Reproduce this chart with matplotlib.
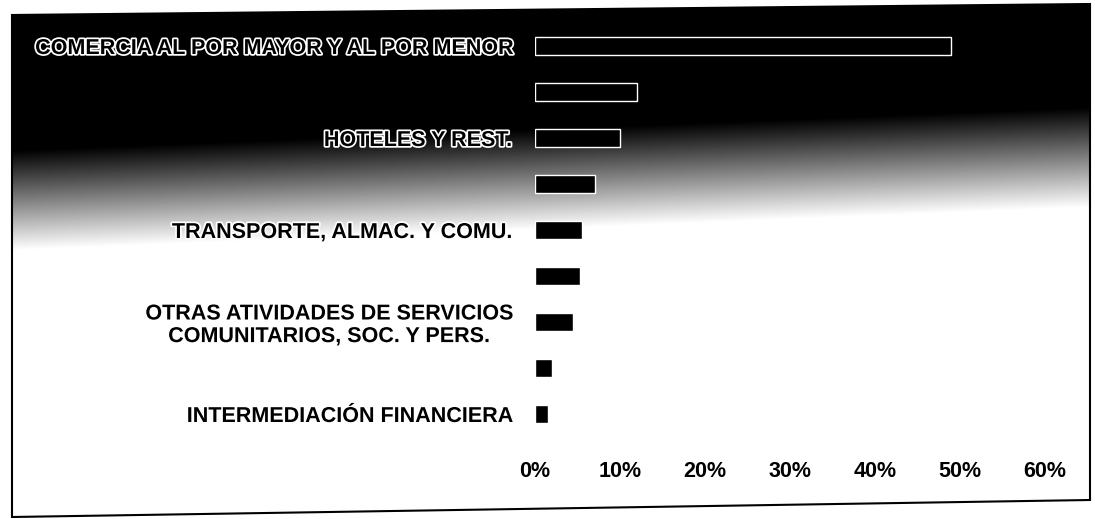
import numpy as np
import matplotlib
matplotlib.use("Agg")
from matplotlib import pyplot as plt
from matplotlib import patheffects as pe
from matplotlib.patches import Polygon

# sectores, de arriba hacia abajo (solo se rotulan uno de cada dos)
sectores = ["COMERCIA AL POR MAYOR Y AL POR MENOR", "",
            "HOTELES Y REST.", "",
            "TRANSPORTE, ALMAC. Y COMU.", "",
            "OTRAS ATIVIDADES DE SERVICIOS\nCOMUNITARIOS, SOC. Y PERS.", "",
            "INTERMEDIACIÓN FINANCIERA"]
participacion = [49.0, 12.0, 10.0, 7.0, 5.5, 5.3, 4.5, 2.0, 1.5]
ticks_x = [0, 10, 20, 30, 40, 50, 60]

plt.rcParams['font.family'] = ['Liberation Sans', 'DejaVu Sans']

W, H = 1095, 519
fig = plt.figure(figsize=(W / 100, H / 100), dpi=100)

# fondo degradado (oscuro arriba, blanco abajo) dentro del marco
bg = fig.add_axes([0, 0, 1, 1], zorder=0)
bg.set_xlim(0, W)
bg.set_ylim(H, 0)
bg.axis('off')
yy, xx = np.mgrid[0:H, 0:W]
img = np.clip((yy - 150 + 0.04 * (xx - 12)) / 100.0, 0, 1)
im = bg.imshow(img, cmap='gray', vmin=0, vmax=1, aspect='auto',
               extent=[0, W, H, 0], interpolation='bilinear')
marco = Polygon([(12, 15), (1090, 4), (1090, 500), (12, 517)], closed=True,
                fill=False, edgecolor='black', lw=1.5)
bg.add_patch(marco)
im.set_clip_path(marco)

ax = fig.add_axes([535 / W, 1 - 437 / H, 510 / W, 414 / H], zorder=1)
ax.patch.set_alpha(0)
pos = np.arange(len(sectores))
ax.barh(pos, participacion, height=0.38, color='black',
        edgecolor='white', linewidth=1.0)
ax.set_ylim(len(sectores) - 0.5, -0.5)
ax.set_xlim(0, 60)
ax.set_yticks(pos)
ax.set_yticklabels(sectores, fontsize=15.5, fontweight='bold',
                   multialignment='center', linespacing=1.1)
ax.set_xticks(ticks_x)
ax.set_xticklabels([f"{v}%" for v in ticks_x], fontsize=15.5, fontweight='bold')
ax.tick_params(axis='y', length=0, pad=17)
ax.tick_params(axis='x', length=0, pad=17)
for lab in ax.get_yticklabels():
    lab.set_path_effects([pe.withStroke(linewidth=2.5, foreground='white')])
for s in ax.spines.values():
    s.set_visible(False)

fig.savefig("out.png", dpi=100)
